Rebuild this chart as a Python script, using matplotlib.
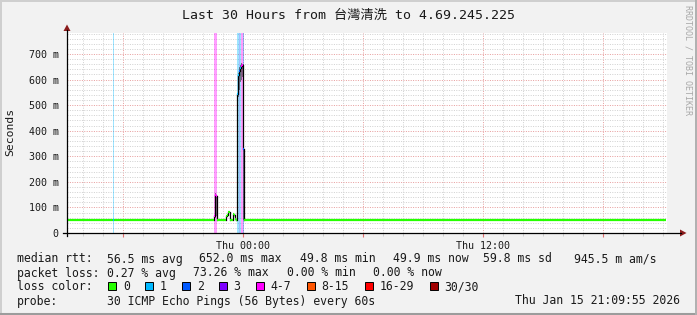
import matplotlib
matplotlib.use('Agg')
import matplotlib.pyplot as plt
from matplotlib.lines import Line2D
from matplotlib.patches import Polygon, Rectangle

# --- data (hours relative to Thu 00:00, one entry per consolidated sample) ---
t_hours = [-8.78, -6.50, -6.45, -1.42, -1.37, -1.32, -1.27, -0.82, -0.77, -0.72,
           -0.67, -0.62, -0.47, -0.42, -0.37, -0.32, -0.27, -0.22, -0.17, -0.12,
           -0.07, -0.02, 0.03, 0.08]
t_last = 21.15
median_ms = [49, 49, 49, 66, 150, 143, 49, 66, 72, 82,
             84, 49, 74, 70, 54, 49, 545, 618, 632, 645,
             652, 655, 330, 49]
loss_pings = [0, 1, 0, 5, 6, 5, 0, 0, 0, 0,
              0, 0, 0, 0, 0, 0, 1, 1, 2, 1,
              5, 5, 2, 0]
smoke_lo = [49, 49, 49, 49, 60, 66, 49, 66, 72, 82,
            84, 49, 74, 70, 54, 49, 49, 530, 560, 590,
            600, 610, 49, 49]
smoke_hi = [49, 49, 49, 66, 158, 145, 49, 66, 72, 82,
            84, 49, 74, 70, 54, 49, 545, 625, 648, 658,
            665, 662, 660, 49]

xtick_hours = [-6, 0, 6, 12, 18]
xtick_labels = ['', 'Thu 00:00', '', 'Thu 12:00', '']
ytick_ms = [0, 100, 200, 300, 400, 500, 600, 700]

loss_labels = ['0', '1', '2', '3', '4-7', '8-15', '16-29', '30/30']
loss_colors = ['#26ff00', '#00b8ff', '#0059ff', '#7e00ff', '#ff00ff', '#ff5500', '#ff0000', '#a10000']
loss_upper = [0, 1, 2, 3, 7, 15, 29, 30]

title = 'Last 30 Hours from 台灣清洗 to 4.69.245.225'
rtt_stats = ['median rtt:', '56.5 ms avg', '652.0 ms max', '49.8 ms min', '49.9 ms now', '59.8 ms sd', '945.5 m am/s']
loss_stats = ['packet loss:', '0.27 % avg', '73.26 % max', '0.00 % min', '0.00 % now']
probe_text = '30 ICMP Echo Pings (56 Bytes) every 60s'
stamp = 'Thu Jan 15 21:09:55 2026'


def loss_color(n):
    for up, c in zip(loss_upper, loss_colors):
        if n <= up:
            return c
    return loss_colors[-1]


W, H = 697, 315
mono = ['DejaVu Sans Mono', 'Noto Sans CJK SC']

fig = plt.figure(figsize=(W / 100, H / 100), dpi=100, facecolor='#f2f2f2')


def fx(x):
    return x / W


def fy(y):
    return 1 - y / H


def ftext(x, y, s, **kw):
    kw.setdefault('fontsize', 8.3)
    kw.setdefault('va', 'center')
    fig.text(fx(x), fy(y), s, family=mono, color='#1a1a1a', **kw)


ax = fig.add_axes([fx(67), fy(233), 600 / W, 200 / H], facecolor='white')
ax.set_xlim(-8.78, 21.22)
ax.set_ylim(0, 782)
for s in ax.spines.values():
    s.set_visible(False)

# grid
ax.set_xticks(xtick_hours)
ax.set_xticklabels(xtick_labels, family=mono, fontsize=7.2)
ax.set_xticks(range(-8, 22), minor=True)
ax.set_yticks(ytick_ms)
ax.set_yticklabels(['0' if v == 0 else '%d m' % v for v in ytick_ms], family=mono, fontsize=7.2)
ax.set_yticks(range(0, 781, 20), minor=True)
ax.grid(True, which='minor', color='#d2d2d2', linestyle=(0, (1, 1.4)), linewidth=0.72)
ax.grid(True, which='major', color='#e8a0a0', linestyle=(0, (1, 1.4)), linewidth=0.72)
ax.set_axisbelow(True)
ax.tick_params(axis='x', which='major', length=3, color='#e07070', pad=3, labelcolor='#1a1a1a')
ax.tick_params(axis='x', which='minor', length=2, color='#c8c8c8')
ax.tick_params(axis='y', which='both', length=0, pad=6, labelcolor='#1a1a1a')

edges = t_hours + [t_last]

# loss background
for i, n in enumerate(loss_pings):
    if n > 0:
        ax.axvspan(edges[i], edges[i + 1], color=loss_color(n), alpha=0.38, lw=0, zorder=1)

# smoke
ax.fill_between(edges, smoke_lo + [smoke_lo[-1]], smoke_hi + [smoke_hi[-1]],
                step='post', color='#3a3a3a', alpha=0.6, lw=0, zorder=2)

# median, coloured by loss
for i, v in enumerate(median_ms):
    ax.plot([edges[i], edges[i + 1]], [v, v], color=loss_color(loss_pings[i]),
            lw=1.6, solid_capstyle='butt', zorder=4)
    if i + 1 < len(median_ms):
        ax.plot([edges[i + 1]] * 2, [v, median_ms[i + 1]], color='black', lw=0.9, zorder=3)

# axes lines and arrows
fig.add_artist(Line2D([fx(63), fx(681)], [fy(233)] * 2, color='black', lw=0.9))
fig.add_artist(Line2D([fx(67)] * 2, [fy(236), fy(30)], color='black', lw=0.9))
fig.add_artist(Polygon([(fx(680), fy(229.5)), (fx(686.5), fy(233)), (fx(680), fy(236.5))],
                       closed=True, color='#8b1c1c', lw=0))
fig.add_artist(Polygon([(fx(63.5), fy(31)), (fx(67), fy(24.5)), (fx(70.5), fy(31))],
                       closed=True, color='#8b1c1c', lw=0))

# frame
fig.add_artist(Line2D([0, 1], [fy(0.8)] * 2, color='#cfcfcf', lw=1.4))
fig.add_artist(Line2D([fx(0.8)] * 2, [0, 1], color='#cfcfcf', lw=1.4))
fig.add_artist(Line2D([0, 1], [fy(313.5)] * 2, color='#9c9c9c', lw=2.2))
fig.add_artist(Line2D([fx(696)] * 2, [0, 1], color='#b0b0b0', lw=1.4))

# texts
ftext(348, 15, title, ha='center', fontsize=9.5)
ftext(10, 132, 'Seconds', ha='center', rotation=90, fontsize=8.2)
fig.text(fx(688), fy(5), 'RRDTOOL / TOBI OETIKER', family=mono, rotation=270,
         ha='center', va='top', fontsize=6, color='#a8a8a8')

rtt_x = [17, 107.3, 199.3, 300, 392.7, 483, 574]
for x, s in zip(rtt_x, rtt_stats):
    ftext(x, 259, s)
loss_x = [17, 107.3, 192.7, 287, 372.7]
for x, s in zip(loss_x, loss_stats):
    ftext(x, 273, s)

ftext(17, 287, 'loss color:')
box_x = [108.3, 145.3, 182, 219, 256.3, 307, 365.3, 430]
lab_x = [123.3, 160, 196.7, 233.7, 270.7, 321.7, 380, 444.7]
for bx, lx, lab, c in zip(box_x, lab_x, loss_labels, loss_colors):
    fig.add_artist(Rectangle((fx(bx), fy(289.5)), 7.5 / W, 7.5 / H, facecolor=c,
                             edgecolor='black', lw=0.7))
    ftext(lx, 287, lab)

ftext(17, 301, 'probe:')
ftext(107.3, 301, probe_text)
ftext(680, 301, stamp, ha='right')

fig.savefig('out.png', dpi=100, facecolor=fig.get_facecolor())
